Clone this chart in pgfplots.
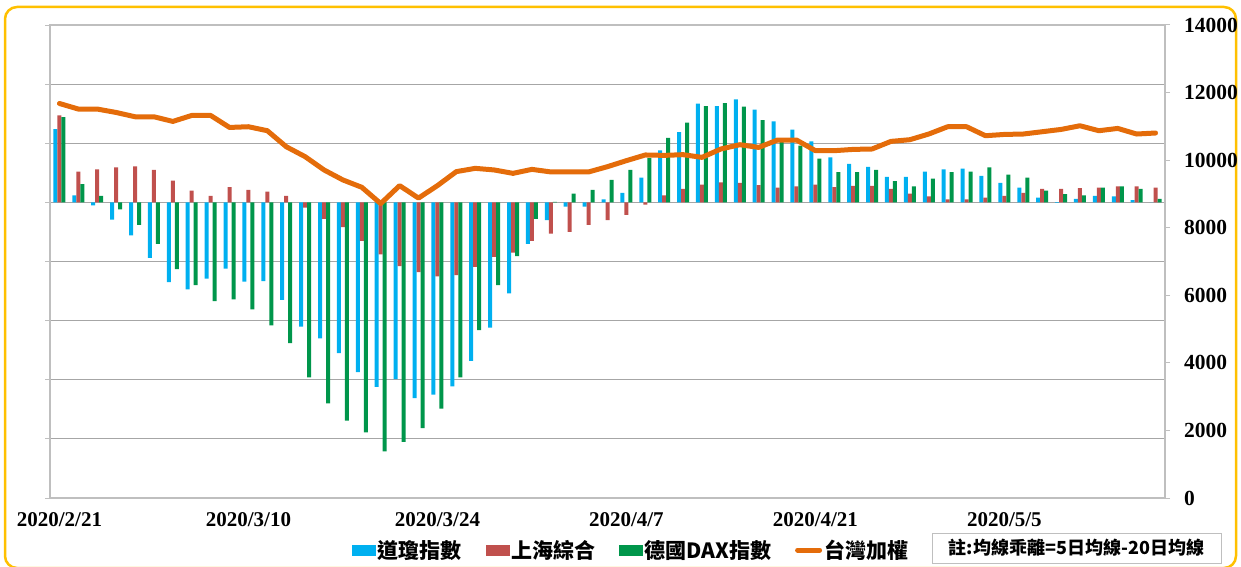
\documentclass[border=0pt]{standalone}
\usepackage{pgfplots}
\pgfplotsset{compat=1.18}
\usepackage{pgfplotstable}
\usepackage{fontspec}
\setmainfont{Liberation Serif}
\newfontfamily\cjk{Noto Sans CJK TC}
\definecolor{cBlue}{HTML}{00B0F0}
\definecolor{cRed}{HTML}{C0504D}
\definecolor{cGreen}{HTML}{00964B}
\definecolor{cOrange}{HTML}{E46C0A}
\definecolor{cGrid}{HTML}{A6A6A6}
\definecolor{cAxis}{HTML}{BFBFBF}
\definecolor{cFrame}{HTML}{FFC000}

\pgfplotstableread{
x dj sh dax tw
0 124 147 144 11677
1 12 52 31 11512
2 -5 56 11 11512
3 -29 59 -12 11411
4 -56 61 -38 11284
5 -94 55 -70 11284
6 -135 37 -113 11146
7 -147 20 -140 11323
8 -129 11 -167 11323
9 -112 26 -164 10968
10 -134 21 -181 10989
11 -133 18 -208 10871
12 -165 11 -238 10398
13 -210 -9 -296 10103
14 -230 -28 -340 9710
15 -255 -42 -369 9414
16 -287 -65 -389 9196
17 -312 -88 -421 8714
18 -299 -108 -405 9246
19 -331 -118 -382 8877
20 -325 -125 -349 9246
21 -311 -123 -296 9660
22 -268 -109 -216 9757
23 -212 -92 -140 9710
24 -154 -85 -91 9609
25 -70 -65 -28 9727
26 -30 -53 1 9651
27 -7 -50 15 9651
28 -7 -38 21 9651
29 5 -30 38 9807
30 16 -21 55 9985
31 42 -4 75 10153
32 88 12 109 10141
33 119 23 135 10162
34 167 30 163 10082
35 163 34 168 10330
36 174 33 162 10457
37 157 29 139 10377
38 137 25 105 10596
39 123 27 96 10596
40 103 30 74 10280
41 76 26 51 10280
42 65 28 51 10318
43 60 28 55 10330
44 43 23 36 10555
45 43 15 27 10605
46 52 10 40 10773
47 56 5 51 10989
48 57 5 52 10989
49 45 8 59 10723
50 33 11 47 10761
51 25 16 42 10773
52 8 23 20 10841
53 -1 23 14 10909
54 6 24 12 11018
55 11 25 25 10871
56 10 27 27 10939
57 4 27 23 10773
58 0 25 6 10803
}\data

\begin{document}
\begin{tikzpicture}
\useasboundingbox (0pt,0pt) rectangle (1241pt,566pt);
\begin{scope}
\clip (0pt,0pt) rectangle (1241pt,566pt);
\draw[cFrame, line width=2.5pt, rounded corners=12pt] (5pt,-2pt) rectangle (1236pt,559pt);
\end{scope}
\coordinate (O) at (50pt,68pt);
\begin{axis}[
  name=ax1,
  at={(O)}, anchor=south west,
  width=1115pt, height=473pt, scale only axis,
  xmin=-0.5, xmax=58.5, ymin=-500, ymax=300,
  ytick={-500,-400,...,300}, yticklabels={},
  ymajorgrids, grid style={cGrid, line width=1pt},
  axis line style={cAxis, line width=1.2pt, -},
  ytick pos=left, tick align=outside, major tick length=5pt,
  tick style={cAxis, line width=1pt},
  xtick={0,10,...,50},
  xticklabels={2020/2/21,2020/3/10,2020/3/24,2020/4/7,2020/4/21,2020/5/5},
  xtick style={draw=none},
  xticklabel style={font=\fontsize{21}{24}\selectfont\bfseries, inner sep=0pt, yshift=-9pt},
]
\addplot[ybar, bar width=4pt, bar shift=-4pt, fill=cBlue, draw=none] table[x=x,y=dj] {\data};
\addplot[ybar, bar width=4pt, bar shift=0pt, fill=cRed, draw=none] table[x=x,y=sh] {\data};
\addplot[ybar, bar width=4pt, bar shift=4pt, fill=cGreen, draw=none] table[x=x,y=dax] {\data};
\end{axis}
\begin{axis}[
  at={(O)}, anchor=south west,
  width=1115pt, height=473pt, scale only axis,
  xmin=-0.5, xmax=58.5, ymin=0, ymax=14000,
  ytick={0,2000,...,14000},
  scaled y ticks=false,
  axis x line=none, axis y line*=right,
  axis line style={cAxis, line width=1.2pt, -},
  tick align=outside, major tick length=5pt,
  tick style={cAxis, line width=1pt},
  yticklabel style={font=\fontsize{21.5}{24}\selectfont\bfseries, anchor=west, inner sep=0pt, xshift=14pt},
  /pgf/number format/1000 sep={},
  /pgf/number format/assume math mode=true,
  legend columns=4,
  legend cell align=left,
  legend style={at={(0.271,-0.11)}, anchor=west, draw=none, fill=none,
    font=\cjk\fontsize{21}{24}\selectfont\bfseries,
    /tikz/every even column/.append style={column sep=22pt},
    nodes={inner xsep=2pt, inner ysep=0pt}, inner sep=0pt},
]
\addlegendimage{legend image code/.code={\fill[cBlue] (0pt,-5pt) rectangle (23pt,5pt);}}
\addlegendentry{道瓊指數}
\addlegendimage{legend image code/.code={\fill[cRed] (0pt,-5pt) rectangle (23pt,5pt);}}
\addlegendentry{上海綜合}
\addlegendimage{legend image code/.code={\fill[cGreen] (0pt,-5pt) rectangle (23pt,5pt);}}
\addlegendentry{德國DAX指數}
\addplot[cOrange, line width=5pt, line join=round, line cap=round,
  legend image code/.code={\draw[cOrange, line width=5pt, line cap=round] (2pt,0pt) -- (24pt,0pt);}]
  table[x=x,y=tw] {\data};
\addlegendentry{台灣加權}
\end{axis}
\node[draw=cAxis, line width=1pt, minimum width=289pt, minimum height=30pt, inner sep=2pt,
  font=\cjk\fontsize{18}{20}\selectfont\bfseries] at (1076.5pt,18pt) {註:均線乖離=5日均線-20日均線};
\end{tikzpicture}
\end{document}
